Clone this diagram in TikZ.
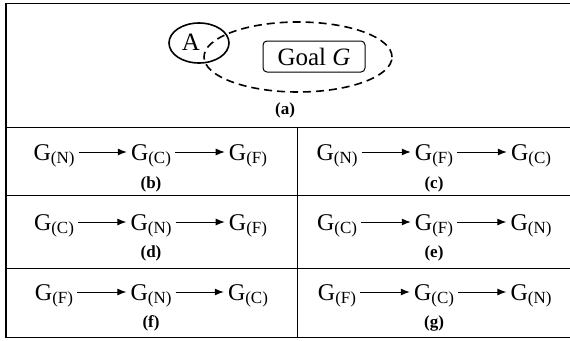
\documentclass[tikz,border=0pt]{standalone}
\usepackage{fontspec}
\setmainfont{Liberation Serif}
\usetikzlibrary{arrows.meta,shapes.geometric}
\newcommand\gs[1]{G\raisebox{-3.5pt}{\fontsize{17}{17}\selectfont(#1)}}
\newcommand\gchain[6]{%
  \node[gnode] (#1a) at (#2-97,#3) {\gs{#4}};
  \node[gnode] (#1b) at (#2,#3) {\gs{#5}};
  \node[gnode] (#1c) at (#2+97,#3) {\gs{#6}};
  \draw[garrow] (#1a) -- (#1b);
  \draw[garrow] (#1b) -- (#1c);}
\begin{document}
\begin{tikzpicture}[x=1pt,y=-1pt,
  frame/.style={line width=1.6pt},
  divider/.style={line width=1pt},
  gnode/.style={inner xsep=4pt,inner ysep=0pt,text height=16pt,text depth=0pt,font=\fontsize{24}{24}\selectfont},
  garrow/.style={line width=1pt,-{Latex[length=9pt,width=7pt]}},
  lbl/.style={font=\fontsize{17}{17}\selectfont\bfseries,inner sep=0pt},
  agent/.style={ellipse,draw,line width=1.6pt,minimum width=60pt,minimum height=40pt,inner sep=0pt},
  goalarea/.style={ellipse,draw,dashed,dash pattern=on 8pt off 5pt,line width=1.6pt,minimum width=188pt,minimum height=70pt,inner sep=0pt},
  goalbox/.style={draw,rounded corners=4pt,line width=1pt,minimum width=102pt,minimum height=31pt,inner sep=0pt,font=\fontsize{25}{25}\selectfont}]
\useasboundingbox (0,0) rectangle (570,340);
% frame and dividers
\draw[frame] (572,3.5) -- (6,3.5) -- (6,337.5) -- (572,337.5);
\draw[divider] (6,127) -- (572,127);
\draw[divider] (6,195) -- (572,195);
\draw[divider] (6,268) -- (572,268);
\draw[divider] (297,127) -- (297,337.5);
% panel (a)
\node[goalarea] (area) at (298,57) {};
\node[agent] (agent) at (199,43) {};
\node[font=\fontsize{25}{25}\selectfont,inner sep=0pt] (aname) at (191,42) {A};
\node[goalbox] (goal) at (314,56.5) {Goal \textit{G}};
\node[lbl] (la) at (285,110) {(a)};
% chains
\gchain{b}{151}{152}{N}{C}{F}
\gchain{c}{434}{152}{N}{F}{C}
\gchain{d}{151}{222}{C}{N}{F}
\gchain{e}{434}{222}{C}{F}{N}
\gchain{f}{151}{292}{F}{N}{C}
\gchain{g}{434}{292}{F}{C}{N}
% labels
\node[lbl] (lb) at (151,184) {(b)};
\node[lbl] (lc) at (434,184) {(c)};
\node[lbl] (ld) at (151,253) {(d)};
\node[lbl] (le) at (434,253) {(e)};
\node[lbl] (lf) at (151,323) {(f)};
\node[lbl] (lg) at (434,323) {(g)};
\end{tikzpicture}
\end{document}
